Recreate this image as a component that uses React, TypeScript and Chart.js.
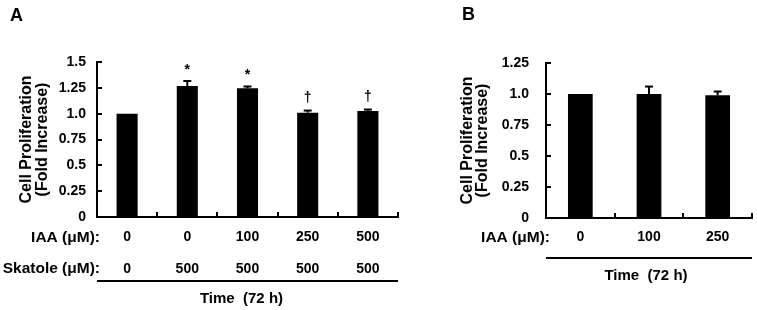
import React, { useEffect, useRef } from 'react';
import { Chart, registerables } from 'chart.js';

Chart.register(...registerables);

const FONT = "'Liberation Sans', Arial, Helvetica, sans-serif";

// Panel A: IAA with 500 µM skatole, 72 h
const iaaA = ['0', '0', '100', '250', '500'];
const skatoleA = ['0', '500', '500', '500', '500'];
const foldA = [1.0, 1.268, 1.245, 1.01, 1.027];
const semA = [0, 0.048, 0.018, 0.02, 0.013];
const marksA = ['', '*', '*', '†', '†'];
const yTicksA = ['0', '0.25', '0.5', '0.75', '1.0', '1.25', '1.5'];

// Panel B: IAA alone, 72 h
const iaaB = ['0', '100', '250'];
const foldB = [1.0, 1.0, 0.99];
const semB = [0, 0.06, 0.03];
const marksB = ['', '', ''];
const yTicksB = ['0', '0.25', '0.5', '0.75', '1.0', '1.25'];

const yStep = 0.25;
const yTitle = ['Cell Proliferation', '(Fold Increase)'];
const timeLabel = 'Time  (72 h)';

type Row = { header: string; values: string[]; offset: number };

type PanelSpec = {
  letter: string;
  letterX: number;
  letterY: number;
  labels: string[];
  values: number[];
  errors: number[];
  marks: string[];
  yTicks: string[];
  rows: Row[];
  ruleOffset: number;
  timeOffset: number;
  timeShift: number;
  headerShift: number;
  axisLeft: number;
  padTop: number;
  padRight: number;
  padBottom: number;
  tickPad: number;
  titlePad: number;
  barPct: number;
  left: number;
  width: number;
};

function makeDecor(spec: PanelSpec) {
  return {
    id: 'panelDecor' + spec.letter,
    afterDatasetsDraw(chart: any) {
      const { ctx, chartArea: ca, scales } = chart;
      const xs = scales.x;
      const ys = scales.y;
      const n = spec.values.length;
      ctx.save();
      ctx.strokeStyle = '#000';
      ctx.fillStyle = '#000';
      ctx.lineWidth = 2;
      ctx.lineCap = 'butt';

      const seg = (x1: number, y1: number, x2: number, y2: number) => {
        ctx.beginPath();
        ctx.moveTo(x1, y1);
        ctx.lineTo(x2, y2);
        ctx.stroke();
      };

      // inward tick marks on the value axis
      ys.ticks.forEach((t: any) => {
        const py = Math.round(ys.getPixelForValue(t.value));
        seg(ca.left, py, ca.left + 5, py);
      });
      // inward tick marks between categories and at the axis end
      for (let i = 0; i < n; i++) {
        const px = Math.round(xs.getPixelForValue(i + 0.5));
        seg(px, ca.bottom, px, ca.bottom - 5);
      }

      // SEM whiskers and significance marks
      const meta = chart.getDatasetMeta(0);
      meta.data.forEach((bar: any, i: number) => {
        const v = spec.values[i];
        const e = spec.errors[i];
        const top = ys.getPixelForValue(v + e);
        if (e > 0) {
          seg(bar.x, ys.getPixelForValue(v), bar.x, top);
          seg(bar.x - 4, top, bar.x + 4, top);
        }
        const m = spec.marks[i];
        if (m) {
          ctx.font = `bold 14px ${FONT}`;
          ctx.textAlign = 'center';
          ctx.textBaseline = 'alphabetic';
          const tm = ctx.measureText(m);
          const target = top - 14;
          const base = target + (tm.actualBoundingBoxAscent - tm.actualBoundingBoxDescent) / 2;
          ctx.fillText(m, bar.x, base);
        }
      });

      // treatment rows under the axis
      ctx.textBaseline = 'middle';
      spec.rows.forEach((row) => {
        const ry = ca.bottom + row.offset;
        ctx.font = `bold 15.5px ${FONT}`;
        ctx.textAlign = 'right';
        ctx.fillText(row.header, ca.left + spec.headerShift, ry);
        ctx.font = `bold 14px ${FONT}`;
        ctx.textAlign = 'center';
        row.values.forEach((val, i) => {
          ctx.fillText(val, xs.getPixelForValue(i), ry);
        });
      });

      // rule and time caption
      const ly = ca.bottom + spec.ruleOffset;
      seg(ca.left, ly, ca.right, ly);
      ctx.font = `bold 15px ${FONT}`;
      ctx.textAlign = 'center';
      ctx.fillText(timeLabel, (ca.left + ca.right) / 2 + spec.timeShift, ca.bottom + spec.timeOffset);

      // panel letter
      ctx.font = `bold 18px ${FONT}`;
      ctx.textAlign = 'left';
      ctx.textBaseline = 'alphabetic';
      ctx.fillText(spec.letter, spec.letterX, spec.letterY);

      ctx.restore();
    },
  };
}

function buildConfig(spec: PanelSpec): any {
  const yMax = (spec.yTicks.length - 1) * yStep;
  return {
    type: 'bar',
    data: {
      labels: spec.labels,
      datasets: [
        {
          data: spec.values,
          backgroundColor: '#000',
          borderWidth: 0,
          categoryPercentage: 1,
          barPercentage: spec.barPct,
        },
      ],
    },
    options: {
      responsive: false,
      animation: false,
      layout: {
        padding: { left: 0, top: spec.padTop, right: spec.padRight, bottom: spec.padBottom },
      },
      plugins: {
        legend: { display: false },
        tooltip: { enabled: false },
        title: { display: false },
      },
      scales: {
        x: {
          offset: true,
          grid: { display: false, drawTicks: false },
          ticks: { display: false },
          border: { display: true, color: '#000', width: 2 },
        },
        y: {
          min: 0,
          max: yMax,
          afterFit: (scale: any) => {
            scale.width = spec.axisLeft;
          },
          grid: { display: false, drawTicks: false },
          border: { display: true, color: '#000', width: 2 },
          ticks: {
            stepSize: yStep,
            padding: spec.tickPad,
            color: '#000',
            font: { family: FONT, size: 14, weight: 'bold' },
            callback: (v: number) => spec.yTicks[Math.round(v / yStep)],
          },
          title: {
            display: true,
            text: yTitle,
            color: '#000',
            font: { family: FONT, size: 16, weight: 'bold', lineHeight: 15.5 / 16 },
            padding: { top: spec.titlePad, bottom: 0 },
          },
        },
      },
    },
    plugins: [makeDecor(spec)],
  };
}

const panelA: PanelSpec = {
  letter: 'A',
  letterX: 10,
  letterY: 21,
  labels: iaaA.map((v, i) => `${v} / ${skatoleA[i]}`),
  values: foldA,
  errors: semA,
  marks: marksA,
  yTicks: yTicksA,
  rows: [
    { header: 'IAA (μM):', values: iaaA, offset: 20.5 },
    { header: 'Skatole (μM):', values: skatoleA, offset: 52 },
  ],
  ruleOffset: 64,
  timeOffset: 81.5,
  timeShift: -6,
  headerShift: 3,
  axisLeft: 97,
  padTop: 62,
  padRight: 22,
  padBottom: 93,
  tickPad: 11,
  titlePad: 19,
  barPct: 0.35,
  left: 0,
  width: 420,
};

const panelB: PanelSpec = {
  letter: 'B',
  letterX: 22,
  letterY: 20,
  labels: iaaB,
  values: foldB,
  errors: semB,
  marks: marksB,
  yTicks: yTicksB,
  rows: [{ header: 'IAA (μM):', values: iaaB, offset: 19.5 }],
  ruleOffset: 40,
  timeOffset: 58,
  timeShift: -3,
  headerShift: 4,
  axisLeft: 106,
  padTop: 63,
  padRight: 5,
  padBottom: 92,
  tickPad: 17,
  titlePad: 19.5,
  barPct: 0.36,
  left: 440,
  width: 317,
};

function Panel({ spec }: { spec: PanelSpec }) {
  const ref = useRef<HTMLCanvasElement | null>(null);
  useEffect(() => {
    const chart = new Chart(ref.current as HTMLCanvasElement, buildConfig(spec));
    return () => chart.destroy();
  }, [spec]);
  return (
    <canvas
      ref={ref}
      width={spec.width}
      height={310}
      style={{ position: 'absolute', left: spec.left, top: 0, width: spec.width, height: 310 }}
    />
  );
}

export default function App() {
  return (
    <div
      style={{
        position: 'fixed',
        left: 0,
        top: 0,
        width: 757,
        height: 310,
        background: '#fff',
        overflow: 'hidden',
      }}
    >
      <Panel spec={panelA} />
      <Panel spec={panelB} />
    </div>
  );
}
